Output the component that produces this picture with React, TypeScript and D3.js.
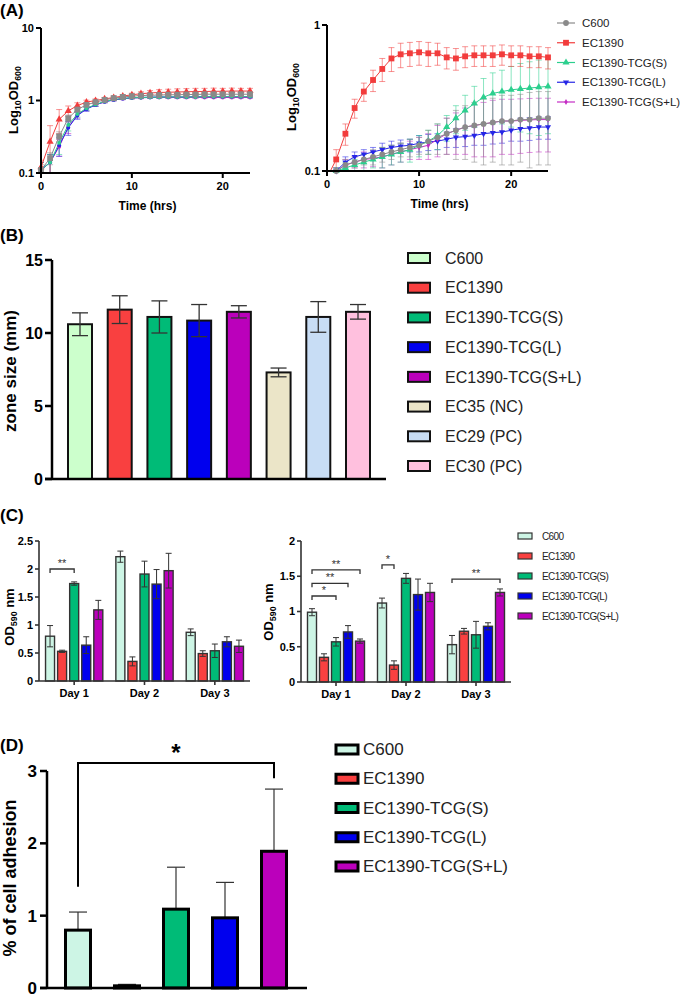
import React from "react";
import * as d3 from "d3";

const FONT = "'Liberation Sans', Arial, Helvetica, sans-serif";

// ---------- (A) growth curves ----------
const strains = ["C600", "EC1390", "EC1390-TCG(S)", "EC1390-TCG(L)", "EC1390-TCG(S+L)"];
const lineColors = ["#8a8a8a", "#f23c3c", "#2ccf8e", "#2626e6", "#c42cc4"];

const hoursLeft = [0, 1, 2, 3, 4, 5, 6, 7, 8, 9, 10, 11, 12, 13, 14, 15, 16, 17, 18, 19, 20, 21, 22, 23];
const odLeft = [
  [0.11, 0.16, 0.32, 0.57, 0.75, 0.87, 0.95, 1.02, 1.08, 1.12, 1.15, 1.17, 1.18, 1.19, 1.2, 1.2, 1.21, 1.21, 1.22, 1.22, 1.22, 1.22, 1.22, 1.22],
  [0.12, 0.27, 0.55, 0.72, 0.85, 0.95, 1.0, 1.05, 1.1, 1.15, 1.2, 1.24, 1.27, 1.29, 1.3, 1.31, 1.32, 1.33, 1.33, 1.34, 1.34, 1.35, 1.35, 1.35],
  [0.11, 0.14, 0.26, 0.46, 0.65, 0.78, 0.88, 0.97, 1.03, 1.07, 1.09, 1.1, 1.11, 1.11, 1.12, 1.12, 1.12, 1.12, 1.13, 1.13, 1.13, 1.13, 1.13, 1.13],
  [0.11, 0.14, 0.24, 0.42, 0.62, 0.76, 0.87, 0.96, 1.02, 1.06, 1.09, 1.1, 1.11, 1.12, 1.12, 1.12, 1.12, 1.13, 1.13, 1.13, 1.13, 1.13, 1.13, 1.13],
  [0.11, 0.14, 0.23, 0.43, 0.63, 0.77, 0.87, 0.96, 1.02, 1.06, 1.08, 1.09, 1.1, 1.1, 1.1, 1.1, 1.1, 1.1, 1.1, 1.1, 1.1, 1.1, 1.1, 1.1],
];
const errLeft = [
  [0.02, 0.03, 0.05, 0.06, 0.05, 0.04, 0.03, 0.03, 0.03, 0.03, 0.03, 0.03, 0.03, 0.03, 0.03, 0.03, 0.03, 0.03, 0.03, 0.03, 0.03, 0.03, 0.03, 0.03],
  [0.03, 0.18, 0.2, 0.12, 0.08, 0.06, 0.05, 0.05, 0.05, 0.05, 0.06, 0.08, 0.1, 0.12, 0.13, 0.14, 0.14, 0.14, 0.14, 0.14, 0.13, 0.13, 0.12, 0.12],
  [0.03, 0.04, 0.08, 0.08, 0.06, 0.05, 0.04, 0.03, 0.03, 0.03, 0.03, 0.03, 0.03, 0.03, 0.03, 0.03, 0.03, 0.03, 0.03, 0.03, 0.03, 0.03, 0.03, 0.03],
  [0.03, 0.04, 0.07, 0.09, 0.07, 0.05, 0.04, 0.03, 0.03, 0.03, 0.03, 0.03, 0.03, 0.03, 0.03, 0.03, 0.03, 0.03, 0.03, 0.03, 0.03, 0.03, 0.03, 0.03],
  [0.03, 0.04, 0.06, 0.08, 0.06, 0.05, 0.04, 0.03, 0.03, 0.03, 0.03, 0.03, 0.03, 0.03, 0.03, 0.03, 0.03, 0.03, 0.03, 0.03, 0.03, 0.03, 0.03, 0.03],
];

const hoursRight = [0, 1, 2, 3, 4, 5, 6, 7, 8, 9, 10, 11, 12, 13, 14, 15, 16, 17, 18, 19, 20, 21, 22, 23, 24];
const odRight = [
  [0.09, 0.1, 0.11, 0.115, 0.12, 0.125, 0.13, 0.135, 0.14, 0.145, 0.15, 0.16, 0.17, 0.18, 0.19, 0.2, 0.205, 0.21, 0.215, 0.22, 0.22, 0.225, 0.225, 0.23, 0.23],
  [0.09, 0.12, 0.18, 0.27, 0.35, 0.42, 0.5, 0.59, 0.63, 0.64, 0.65, 0.64, 0.64, 0.6, 0.59, 0.61, 0.62, 0.62, 0.62, 0.63, 0.62, 0.62, 0.61, 0.61, 0.6],
  [0.09, 0.1, 0.105, 0.11, 0.115, 0.12, 0.125, 0.13, 0.135, 0.14, 0.15, 0.16, 0.175, 0.2, 0.23, 0.26, 0.29, 0.32, 0.34, 0.35, 0.36, 0.365, 0.37, 0.375, 0.38],
  [0.09, 0.1, 0.115, 0.125, 0.13, 0.135, 0.14, 0.145, 0.148, 0.15, 0.155, 0.158, 0.16, 0.165, 0.17, 0.172, 0.175, 0.18, 0.183, 0.185, 0.19, 0.195, 0.197, 0.2, 0.2],
  [0.09, 0.1, 0.11, 0.115, 0.12, 0.122, 0.125, 0.13, 0.135, 0.14, 0.145, 0.15, 0.165, 0.18, 0.19, 0.2, 0.205, 0.21, 0.215, 0.22, 0.22, 0.222, 0.224, 0.225, 0.225],
];
const errRight = [
  [0.005, 0.005, 0.01, 0.01, 0.01, 0.015, 0.015, 0.015, 0.015, 0.02, 0.02, 0.03, 0.04, 0.05, 0.07, 0.08, 0.09, 0.1, 0.1, 0.11, 0.11, 0.11, 0.12, 0.12, 0.12],
  [0.01, 0.02, 0.03, 0.04, 0.05, 0.07, 0.09, 0.11, 0.12, 0.12, 0.12, 0.12, 0.11, 0.1, 0.1, 0.1, 0.1, 0.1, 0.1, 0.1, 0.1, 0.1, 0.1, 0.1, 0.1],
  [0.005, 0.005, 0.01, 0.01, 0.015, 0.015, 0.02, 0.02, 0.02, 0.025, 0.025, 0.03, 0.035, 0.04, 0.05, 0.07, 0.09, 0.11, 0.13, 0.14, 0.16, 0.18, 0.19, 0.2, 0.2],
  [0.005, 0.005, 0.01, 0.01, 0.01, 0.01, 0.015, 0.015, 0.015, 0.015, 0.02, 0.02, 0.02, 0.02, 0.025, 0.025, 0.025, 0.03, 0.03, 0.03, 0.03, 0.035, 0.035, 0.035, 0.035],
  [0.005, 0.005, 0.01, 0.01, 0.015, 0.015, 0.02, 0.02, 0.02, 0.02, 0.025, 0.03, 0.04, 0.05, 0.06, 0.07, 0.08, 0.085, 0.09, 0.09, 0.09, 0.09, 0.09, 0.09, 0.09],
];
const logTicksLeft = [0.1, 1, 10];
const logTicksRight = [0.1, 1];
const timeTicks = [0, 10, 20];

// ---------- (B) zone size ----------
const zoneStrains = ["C600", "EC1390", "EC1390-TCG(S)", "EC1390-TCG(L)", "EC1390-TCG(S+L)", "EC35 (NC)", "EC29 (PC)", "EC30 (PC)"];
const zoneColors = ["#ccffcc", "#f94040", "#00bb77", "#0000ee", "#bb00bb", "#ebe5c8", "#c8ddf5", "#ffc0de"];
const zoneMean = [10.6, 11.6, 11.1, 10.85, 11.45, 7.3, 11.1, 11.45];
const zoneSd = [0.78, 0.95, 1.1, 1.1, 0.42, 0.3, 1.05, 0.5];
const zoneTicks = [0, 5, 10, 15];

// ---------- (C) biofilm ----------
const days = ["Day 1", "Day 2", "Day 3"];
const barColors = ["#cdf5e5", "#f94040", "#00bb77", "#0000ee", "#bb00bb"];
const biofilmLeft = [
  [0.8, 2.22, 0.87],
  [0.53, 0.35, 0.49],
  [1.74, 1.91, 0.54],
  [0.64, 1.73, 0.7],
  [1.27, 1.97, 0.62],
];
const biofilmLeftSd = [
  [0.19, 0.1, 0.06],
  [0.02, 0.08, 0.05],
  [0.03, 0.23, 0.12],
  [0.15, 0.26, 0.09],
  [0.17, 0.31, 0.11],
];
const biofilmRight = [
  [0.99, 1.12, 0.53],
  [0.35, 0.24, 0.72],
  [0.57, 1.47, 0.67],
  [0.71, 1.24, 0.79],
  [0.58, 1.27, 1.27],
];
const biofilmRightSd = [
  [0.05, 0.07, 0.13],
  [0.05, 0.06, 0.04],
  [0.06, 0.07, 0.19],
  [0.09, 0.22, 0.05],
  [0.03, 0.13, 0.05],
];
const biofilmTicksLeft = [0, 0.5, 1.0, 1.5, 2.0, 2.5];
const biofilmTicksRight = [0, 0.5, 1.0, 1.5, 2.0];
const sigLeft = [{ day: 0, from: 0, to: 2, level: 2.0, label: "**" }];
const sigRight = [
  { day: 0, from: 0, to: 2, level: 1.22, label: "*" },
  { day: 0, from: 0, to: 3, level: 1.4, label: "**" },
  { day: 0, from: 0, to: 4, level: 1.59, label: "**" },
  { day: 1, from: 0, to: 1, level: 1.66, label: "*" },
  { day: 2, from: 0, to: 4, level: 1.46, label: "**" },
];

// ---------- (D) adhesion ----------
const adhesionMean = [0.8, 0.03, 1.09, 0.97, 1.89];
const adhesionSd = [0.25, 0.02, 0.58, 0.49, 0.86];
const adhesionTicks = [0, 1, 2, 3];
const adhesionSig = { from: 0, to: 4, top: 3.11, leftEnd: 1.4, rightEnd: 2.9, label: "*" };

// ---------------- helpers ----------------
const fmtTick = (v: number) => (Number.isInteger(v) ? String(v) : v.toFixed(1));

function Sub({ x, y, base, sub, tail, tailSub, size }: any) {
  return (
    <text transform={`translate(${x},${y}) rotate(-90)`} textAnchor="middle" fontWeight="bold" fontSize={size} fill="#000">
      <tspan>{base}</tspan>
      <tspan fontSize={size * 0.68} dy={size * 0.25}>{sub}</tspan>
      <tspan dy={-size * 0.25}>{tail}</tspan>
      {tailSub && <tspan fontSize={size * 0.68} dy={size * 0.25}>{tailSub}</tspan>}
    </text>
  );
}

const markerTypes = [d3.symbolCircle, d3.symbolSquare, d3.symbolTriangle, d3.symbolTriangle, d3.symbolDiamond];
const markerRot = [0, 0, 0, 180, 0];

function GrowthPlot({ hours, values, errors, xRange, yRange, yDomain, yTicks, sizes, types, order, clipId, capW }: any) {
  const x = d3.scaleLinear().domain([0, hours[hours.length - 1]]).range(xRange);
  const y = d3.scaleLog().domain(yDomain).range(yRange);
  const line = d3.line<number>().x((_, i) => x(hours[i])).y((d) => y(d));
  return (
    <g>
      <clipPath id={clipId}>
        <rect x={xRange[0]} y={yRange[1] - 10} width={xRange[1] - xRange[0] + 10} height={yRange[0] - yRange[1] + 10} />
      </clipPath>
      <g clipPath={`url(#${clipId})`}>
        {order.map((s: number) =>
          values[s].map((v: number, i: number) => {
            const lo = Math.max(v - errors[s][i], 0.05);
            const hi = v + errors[s][i];
            const cx = x(hours[i]);
            return (
              <g key={`e${s}-${i}`} stroke={lineColors[s]} strokeOpacity={0.55} strokeWidth={1}>
                <line x1={cx} x2={cx} y1={y(lo)} y2={y(hi)} />
                <line x1={cx - capW} x2={cx + capW} y1={y(hi)} y2={y(hi)} />
                <line x1={cx - capW} x2={cx + capW} y1={y(lo)} y2={y(lo)} />
              </g>
            );
          })
        )}
        {order.map((s: number) => (
          <path key={`l${s}`} d={line(values[s]) || ""} fill="none" stroke={lineColors[s]} strokeWidth={1} />
        ))}
      </g>
      {order.map((s: number) => (
        <g key={`m${s}`}>
          {values[s].map((v: number, i: number) =>
            v >= yDomain[0] ? (
              <path
                key={i}
                d={d3.symbol().type(types[s]).size(sizes[s])() || ""}
                transform={`translate(${x(hours[i])},${y(v)}) rotate(${types[s] === d3.symbolTriangle ? markerRot[s] : 0})`}
                fill={lineColors[s]}
              />
            ) : null
          )}
        </g>
      ))}
      {/* axes */}
      <line x1={xRange[0]} x2={xRange[0]} y1={yRange[0]} y2={yRange[1]} stroke="#000" strokeWidth={2} />
      <line x1={xRange[0] - 1} x2={xRange[1]} y1={yRange[0]} y2={yRange[0]} stroke="#000" strokeWidth={2} />
      {yTicks.map((t: number) => (
        <g key={t}>
          <line x1={xRange[0] - 5} x2={xRange[0]} y1={y(t)} y2={y(t)} stroke="#000" strokeWidth={2} />
          <text x={xRange[0] - 7} y={y(t)} dy="0.35em" textAnchor="end" fontSize={11} fontWeight="bold">{t}</text>
        </g>
      ))}
      {timeTicks.map((t) => (
        <g key={t}>
          <line x1={x(t)} x2={x(t)} y1={yRange[0]} y2={yRange[0] + 5} stroke="#000" strokeWidth={2} />
          <text x={x(t)} y={yRange[0] + 17} textAnchor="middle" fontSize={11} fontWeight="bold">{t}</text>
        </g>
      ))}
      <text x={(xRange[0] + xRange[1]) / 2 + 2} y={yRange[0] + 37} textAnchor="middle" fontSize={12} fontWeight="bold">Time (hrs)</text>
    </g>
  );
}

function PanelA() {
  const legendY = d3.scalePoint<string>().domain(strains).range([23, 102]);
  const legendTypes = [d3.symbolCircle, d3.symbolSquare, d3.symbolTriangle, d3.symbolTriangle, d3.symbolDiamond];
  const legendSizes = [26, 34, 22, 16, 10];
  return (
    <g>
      <text x={0} y={16} fontSize={17} fontWeight="bold">(A)</text>
      <GrowthPlot
        hours={hoursLeft}
        values={odLeft}
        errors={errLeft}
        xRange={[41, 250]}
        yRange={[173, 28]}
        yDomain={[0.1, 10]}
        yTicks={logTicksLeft}
        sizes={[34, 22, 12, 12, 12]}
        types={[d3.symbolSquare, d3.symbolTriangle, d3.symbolCircle, d3.symbolCircle, d3.symbolCircle]}
        order={[4, 3, 2, 1, 0]}
        clipId="clipA1"
        capW={3}
      />
      <Sub x={18} y={100} base="Log" sub="10" tail="OD" tailSub="600" size={13} />
      <GrowthPlot
        hours={hoursRight}
        values={odRight}
        errors={errRight}
        xRange={[327, 548]}
        yRange={[171, 25]}
        yDomain={[0.1, 1]}
        yTicks={logTicksRight}
        sizes={[26, 34, 22, 16, 10]}
        types={markerTypes}
        order={[3, 4, 2, 1, 0]}
        clipId="clipA2"
        capW={3}
      />
      <Sub x={296} y={97} base="Log" sub="10" tail="OD" tailSub="600" size={13} />
      {strains.map((s, i) => (
        <g key={s} transform={`translate(0,${legendY(s)})`}>
          <line x1={557} x2={575} y1={0} y2={0} stroke={lineColors[i]} strokeWidth={1.2} />
          <path
            d={d3.symbol().type(legendTypes[i]).size(legendSizes[i])() || ""}
            transform={`translate(566,0) rotate(${markerRot[i]})`}
            fill={lineColors[i]}
          />
          <text x={582} y={0} dy="0.35em" fontSize={11.5} fill="#222">{s}</text>
        </g>
      ))}
    </g>
  );
}

function PanelB() {
  const x = d3.scalePoint<string>().domain(zoneStrains).range([80, 358]);
  const y = d3.scaleLinear().domain([0, 15]).range([479, 260]);
  const bw = 24;
  const legendY = d3.scalePoint<string>().domain(zoneStrains).range([258, 466]);
  return (
    <g>
      <text x={0} y={241} fontSize={17} fontWeight="bold">(B)</text>
      {zoneStrains.map((s, i) => (
        <g key={s}>
          <rect x={x(s)! - bw / 2} y={y(zoneMean[i])} width={bw} height={y(0) - y(zoneMean[i])} fill={zoneColors[i]} stroke="#111" strokeWidth={2} />
          <g stroke="#333" strokeWidth={1.3}>
            <line x1={x(s)} x2={x(s)} y1={y(zoneMean[i] - zoneSd[i])} y2={y(zoneMean[i] + zoneSd[i])} />
            <line x1={x(s)! - 8} x2={x(s)! + 8} y1={y(zoneMean[i] + zoneSd[i])} y2={y(zoneMean[i] + zoneSd[i])} />
            <line x1={x(s)! - 8} x2={x(s)! + 8} y1={y(zoneMean[i] - zoneSd[i])} y2={y(zoneMean[i] - zoneSd[i])} />
          </g>
        </g>
      ))}
      <line x1={52} x2={52} y1={y(0)} y2={y(15)} stroke="#000" strokeWidth={2.5} />
      <line x1={45} x2={386} y1={y(0)} y2={y(0)} stroke="#000" strokeWidth={2.5} />
      {zoneTicks.map((t) => (
        <g key={t}>
          <line x1={45} x2={52} y1={y(t)} y2={y(t)} stroke="#000" strokeWidth={2.5} />
          <text x={43} y={y(t)} dy="0.36em" textAnchor="end" fontSize={16} fontWeight="bold">{t}</text>
        </g>
      ))}
      <text transform="translate(16,371) rotate(-90)" textAnchor="middle" fontSize={17} fontWeight="bold">zone size (mm)</text>
      {zoneStrains.map((s, i) => (
        <g key={s}>
          <rect x={408} y={legendY(s)! - 5} width={22} height={10} fill={zoneColors[i]} stroke="#111" strokeWidth={2} />
          <text x={445} y={legendY(s)} dy="0.36em" fontSize={16} fill="#222">{s}</text>
        </g>
      ))}
    </g>
  );
}

function BiofilmPlot({ values, sds, xRange, yRange, yMax, ticks, sig, legend }: any) {
  const x = d3.scaleBand<string>().domain(days).range(xRange);
  const inner = d3.scaleBand<number>().domain([0, 1, 2, 3, 4]).range([5, x.bandwidth() - 5]);
  const y = d3.scaleLinear().domain([0, yMax]).range(yRange);
  const bw = 9;
  const cx = (d: number, s: number) => x(days[d])! + inner(s)! + inner.bandwidth() / 2;
  return (
    <g>
      {days.map((day, d) =>
        values.map((row: number[], s: number) => {
          const v = row[d];
          const e = sds[s][d];
          const c = cx(d, s);
          return (
            <g key={`${day}-${s}`}>
              <rect x={c - bw / 2} y={y(v)} width={bw} height={y(0) - y(v)} fill={barColors[s]} stroke="#333" strokeWidth={1.4} />
              <g stroke="#333" strokeWidth={1}>
                <line x1={c} x2={c} y1={y(v - e)} y2={y(v + e)} />
                <line x1={c - 3} x2={c + 3} y1={y(v + e)} y2={y(v + e)} />
                <line x1={c - 3} x2={c + 3} y1={y(v - e)} y2={y(v - e)} />
              </g>
            </g>
          );
        })
      )}
      {sig.map((b: any, i: number) => {
        const a = cx(b.day, b.from);
        const z = cx(b.day, b.to);
        const yy = y(b.level);
        return (
          <g key={i}>
            <path d={`M${a},${yy + 4}V${yy}H${z}V${yy + 4}`} fill="none" stroke="#333" strokeWidth={1.3} />
            <text x={(a + z) / 2} y={yy - 2} textAnchor="middle" fontSize={11} fill="#333">{b.label}</text>
          </g>
        );
      })}
      <line x1={xRange[0]} x2={xRange[0]} y1={y(0)} y2={y(yMax)} stroke="#333" strokeWidth={1.6} />
      <line x1={xRange[0]} x2={xRange[1]} y1={y(0)} y2={y(0)} stroke="#333" strokeWidth={1.6} />
      {ticks.map((t: number) => (
        <g key={t}>
          <line x1={xRange[0] - 4} x2={xRange[0]} y1={y(t)} y2={y(t)} stroke="#333" strokeWidth={1.6} />
          <text x={xRange[0] - 6} y={y(t)} dy="0.36em" textAnchor="end" fontSize={11} fontWeight="bold">{fmtTick(t)}</text>
        </g>
      ))}
      {days.map((day) => {
        const c = x(day)! + x.bandwidth() / 2;
        return (
          <g key={day}>
            <line x1={c} x2={c} y1={y(0)} y2={y(0) + 4} stroke="#333" strokeWidth={1.6} />
            <text x={c} y={y(0) + 16} textAnchor="middle" fontSize={11} fontWeight="bold">{day}</text>
          </g>
        );
      })}
      {legend && (
        <g>
          {strains.map((s, i) => {
            const ly = d3.scalePoint<string>().domain(strains).range([536, 616])(s)!;
            return (
              <g key={s}>
                <rect x={518} y={ly - 3} width={14} height={6} fill={barColors[i]} stroke="#333" strokeWidth={1.2} />
                <text x={542} y={ly} dy="0.36em" fontSize={10} letterSpacing={-0.6} fill="#222">{s}</text>
              </g>
            );
          })}
        </g>
      )}
    </g>
  );
}

function PanelC() {
  return (
    <g>
      <text x={0} y={521} fontSize={17} fontWeight="bold">(C)</text>
      <BiofilmPlot values={biofilmLeft} sds={biofilmLeftSd} xRange={[39, 250]} yRange={[681, 541]} yMax={2.5} ticks={biofilmTicksLeft} sig={sigLeft} />
      <Sub x={14} y={617} base="OD" sub="590" tail=" nm" size={13} />
      <BiofilmPlot values={biofilmRight} sds={biofilmRightSd} xRange={[301, 511]} yRange={[682, 541]} yMax={2} ticks={biofilmTicksRight} sig={sigRight} legend />
      <Sub x={273} y={612} base="OD" sub="590" tail=" nm" size={13} />
    </g>
  );
}

function PanelD() {
  const x = d3.scalePoint<string>().domain(strains).range([78, 274]);
  const y = d3.scaleLinear().domain([0, 3]).range([988, 771]);
  const bw = 25;
  const legendY = d3.scalePoint<string>().domain(strains).range([749, 866]);
  const a = x(strains[adhesionSig.from])!;
  const z = x(strains[adhesionSig.to])!;
  return (
    <g>
      <text x={0} y={751} fontSize={17} fontWeight="bold">(D)</text>
      {strains.map((s, i) => {
        const v = adhesionMean[i];
        const c = x(s)!;
        return (
          <g key={s}>
            <line x1={c} x2={c} y1={y(v)} y2={y(v + adhesionSd[i])} stroke="#333" strokeWidth={1.2} />
            <line x1={c - 9} x2={c + 9} y1={y(v + adhesionSd[i])} y2={y(v + adhesionSd[i])} stroke="#333" strokeWidth={1.2} />
            <rect x={c - bw / 2} y={y(v)} width={bw} height={y(0) - y(v)} fill={barColors[i]} stroke="#000" strokeWidth={3} />
          </g>
        );
      })}
      <path
        d={`M${a},${y(adhesionSig.leftEnd)}V${y(adhesionSig.top)}H${z}V${y(adhesionSig.rightEnd)}`}
        fill="none"
        stroke="#000"
        strokeWidth={2}
      />
      <text x={(a + z) / 2} y={y(adhesionSig.top) - 2} textAnchor="middle" fontSize={24} fontWeight="bold">{adhesionSig.label}</text>
      <line x1={47} x2={47} y1={y(0)} y2={y(3)} stroke="#000" strokeWidth={2.5} />
      <line x1={40} x2={307} y1={y(0)} y2={y(0)} stroke="#000" strokeWidth={2.5} />
      {adhesionTicks.map((t) => (
        <g key={t}>
          <line x1={40} x2={47} y1={y(t)} y2={y(t)} stroke="#000" strokeWidth={2.5} />
          <text x={37} y={y(t)} dy="0.36em" textAnchor="end" fontSize={17} fontWeight="bold">{t}</text>
        </g>
      ))}
      <text transform="translate(16,878) rotate(-90)" textAnchor="middle" fontSize={18} fontWeight="bold">% of cell adhesion</text>
      {strains.map((s, i) => (
        <g key={s}>
          <rect x={336} y={legendY(s)! - 4} width={22} height={9} fill={barColors[i]} stroke="#000" strokeWidth={3} />
          <text x={363} y={legendY(s)} dy="0.36em" fontSize={17} fill="#222">{s}</text>
        </g>
      ))}
    </g>
  );
}

export default function App() {
  return (
    <svg width={685} height={997} style={{ position: "absolute", left: 0, top: 0, background: "#fff" }} fontFamily={FONT}>
      <rect width={685} height={997} fill="#fff" />
      <PanelA />
      <PanelB />
      <PanelC />
      <PanelD />
    </svg>
  );
}
